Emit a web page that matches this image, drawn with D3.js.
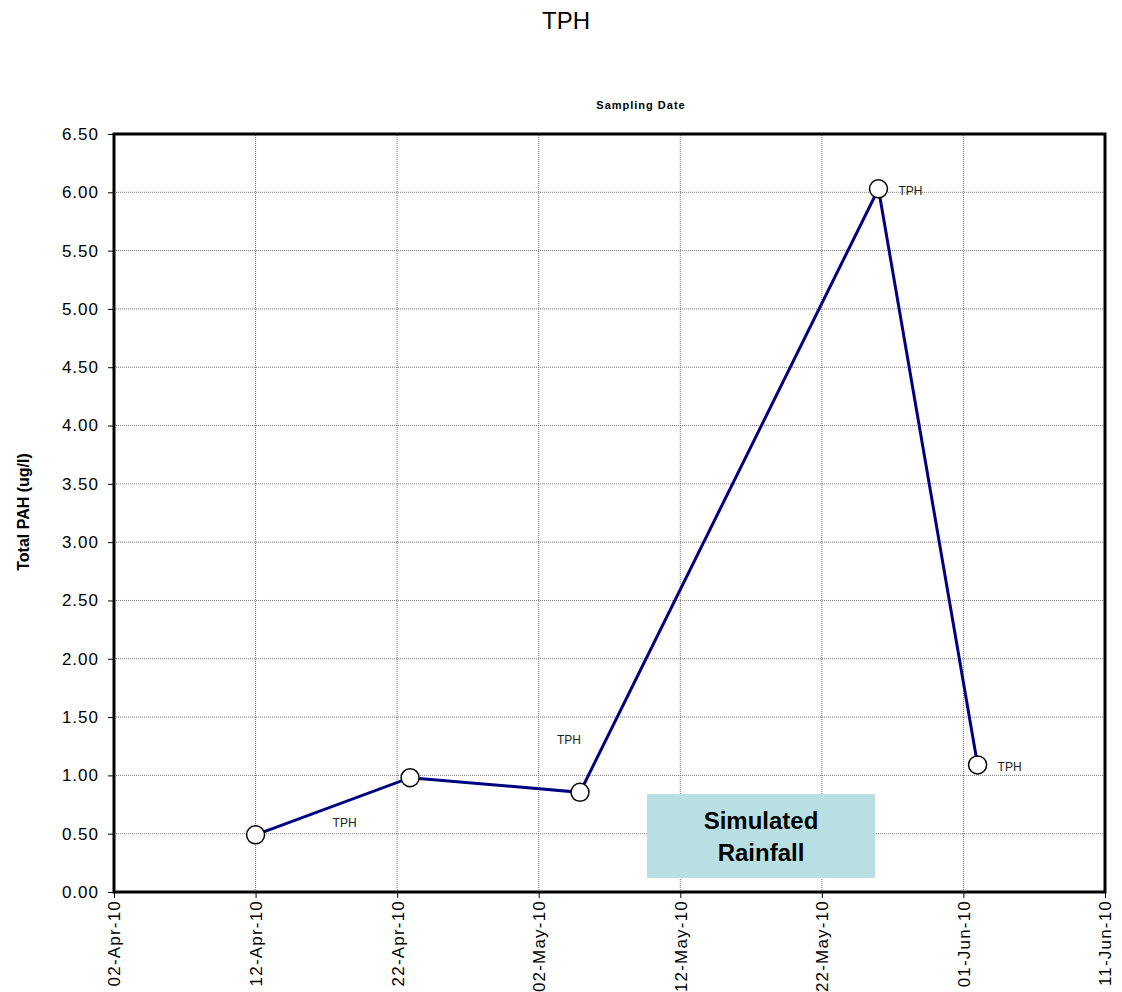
<!DOCTYPE html>
<html>
<head>
<meta charset="utf-8">
<script src="https://cdn.jsdelivr.net/npm/d3@7"></script>
<style>
body { margin: 0; background: #fff; }
text { font-family: Arial, "Liberation Sans", sans-serif; }
</style>
</head>
<body>
<div id="chart"></div>
<script>
// sample dates and TPH values
var sampleDates = ["2010-04-12T00:00", "2010-04-22T22:00", "2010-05-04T22:00", "2010-05-26T00:00", "2010-06-02T00:00"];
var tphValues = [0.49, 0.98, 0.855, 6.03, 1.09];
var pointLabels = ["TPH", "", "TPH", "TPH", "TPH"];
// label offsets from their point (px)
var labelDx = [77, 0, -23, 20, 20];
var labelDy = [-8, 0, -48, 6, 6];

var xTickDates = ["2010-04-02", "2010-04-12", "2010-04-22", "2010-05-02", "2010-05-12", "2010-05-22", "2010-06-01", "2010-06-11"];
var yTicks = [0, 0.5, 1, 1.5, 2, 2.5, 3, 3.5, 4, 4.5, 5, 5.5, 6, 6.5];

var parse = d3.timeParse("%Y-%m-%dT%H:%M");
var parseDay = d3.timeParse("%Y-%m-%d");

var width = 1122, height = 992;
var margin = {left: 114, right: 17, top: 134, bottom: 100};

var svg = d3.select("#chart").append("svg").attr("width", width).attr("height", height);

var x = d3.scaleTime()
	.domain([parseDay(xTickDates[0]), parseDay(xTickDates[xTickDates.length-1])])
	.range([margin.left, width - margin.right]);
var y = d3.scaleLinear().domain([0, 6.5]).range([height - margin.bottom, margin.top]);

var data = sampleDates.map(function(d, i){
	return {date: parse(d), value: tphValues[i], label: pointLabels[i], dx: labelDx[i], dy: labelDy[i]};
});

// grid
var grid = svg.append("g").attr("class", "grid");
grid.selectAll("line.h").data(yTicks).enter().append("line")
	.attr("x1", x.range()[0]).attr("x2", x.range()[1])
	.attr("y1", function(d){ return y(d); }).attr("y2", function(d){ return y(d); })
	.attr("stroke", "#777").attr("stroke-width", 1).attr("stroke-dasharray", "1,1");
grid.selectAll("line.v").data(xTickDates).enter().append("line")
	.attr("x1", function(d){ return x(parseDay(d)); }).attr("x2", function(d){ return x(parseDay(d)); })
	.attr("y1", y.range()[0]).attr("y2", y.range()[1])
	.attr("stroke", "#777").attr("stroke-width", 1).attr("stroke-dasharray", "1,1");

// rainfall box
var box = svg.append("g");
box.append("rect")
	.attr("x", 647).attr("y", y(0.84))
	.attr("width", 228).attr("height", y(0.12) - y(0.84))
	.attr("fill", "#b8e0e3");
box.append("text").attr("x", 761).attr("y", 829).attr("text-anchor", "middle")
	.attr("font-size", 24).attr("font-weight", "bold").text("Simulated");
box.append("text").attr("x", 761).attr("y", 861).attr("text-anchor", "middle")
	.attr("font-size", 24).attr("font-weight", "bold").text("Rainfall");

// axes
var yAxis = d3.axisLeft(y).tickValues(yTicks).tickFormat(d3.format(".2f")).tickSize(6).tickPadding(9);
var xAxis = d3.axisBottom(x).tickValues(xTickDates.map(parseDay)).tickFormat(d3.timeFormat("%d-%b-%y")).tickSize(6);

var gy = svg.append("g").attr("transform", "translate(" + margin.left + ",0)").call(yAxis);
gy.select(".domain").remove();
gy.selectAll("text").attr("font-size", 17).attr("letter-spacing", 1).attr("fill", "#000").attr("font-family", "Arial, 'Liberation Sans', sans-serif");
gy.selectAll("line").attr("stroke", "#000");

var gx = svg.append("g").attr("transform", "translate(0," + (height - margin.bottom) + ")").call(xAxis);
gx.select(".domain").remove();
gx.selectAll("line").attr("stroke", "#000");
gx.selectAll("text")
	.attr("font-size", 17).attr("letter-spacing", 1.2).attr("fill", "#000").attr("font-family", "Arial, 'Liberation Sans', sans-serif")
	.attr("text-anchor", "end")
	.attr("transform", "rotate(-90)")
	.attr("x", -8).attr("y", 0).attr("dy", "0.35em");

// frame
svg.append("rect")
	.attr("x", x.range()[0]).attr("y", y.range()[1])
	.attr("width", x.range()[1] - x.range()[0]).attr("height", y.range()[0] - y.range()[1])
	.attr("fill", "none").attr("stroke", "#000").attr("stroke-width", 3);

// line
var line = d3.line().x(function(d){ return x(d.date); }).y(function(d){ return y(d.value); });
svg.append("path").datum(data)
	.attr("d", line).attr("fill", "none").attr("stroke", "#000080").attr("stroke-width", 3);

svg.append("g").selectAll("circle").data(data).enter().append("circle")
	.attr("cx", function(d){ return x(d.date); })
	.attr("cy", function(d){ return y(d.value); })
	.attr("r", 9).attr("fill", "#fff").attr("stroke", "#000").attr("stroke-width", 1.5);

svg.append("g").selectAll("text").data(data).enter().append("text")
	.attr("x", function(d){ return x(d.date) + d.dx; })
	.attr("y", function(d){ return y(d.value) + d.dy; })
	.attr("font-size", 12).attr("fill", "#222")
	.text(function(d){ return d.label; });

// titles
svg.append("text").attr("x", 566).attr("y", 29).attr("text-anchor", "middle")
	.attr("font-size", 24).text("TPH");
svg.append("text").attr("x", 641).attr("y", 109).attr("text-anchor", "middle")
	.attr("font-size", 11).attr("font-weight", "bold").attr("letter-spacing", 1).text("Sampling Date");
svg.append("text").attr("transform", "translate(29,512) rotate(-90)").attr("text-anchor", "middle")
	.attr("font-size", 16).attr("font-weight", "bold").text("Total PAH (ug/l)");
</script>
</body>
</html>
